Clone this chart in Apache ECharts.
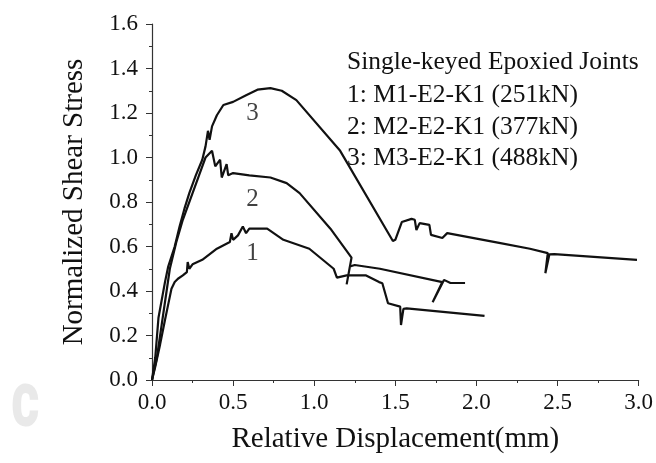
<!DOCTYPE html>
<html><head><meta charset="utf-8">
<script src="https://cdn.jsdelivr.net/npm/echarts@6/dist/echarts.min.js"></script>
<style>html,body{margin:0;padding:0;background:#fff}#c{width:656px;height:463px}</style>
</head><body><div id="c"></div>
<script>
// Curve 1: M1-E2-K1 (251kN)
var disp1 = [0,0.02,0.05,0.08,0.10,0.12,0.14,0.16,0.19,0.215,0.22,0.23,0.25,0.31,0.40,0.48,0.49,0.50,0.53,0.56,0.58,0.60,0.71,0.81,0.97,1.12,1.14,1.20,1.32,1.40,1.42,1.455,1.53,1.535,1.55,1.57,2.05];
var stress1 = [0,0.06,0.16,0.27,0.34,0.41,0.44,0.455,0.47,0.485,0.53,0.50,0.52,0.54,0.59,0.62,0.66,0.63,0.65,0.69,0.66,0.68,0.68,0.63,0.59,0.50,0.46,0.47,0.47,0.44,0.435,0.345,0.33,0.247,0.32,0.322,0.288];
// Curve 2: M2-E2-K1 (377kN)
var disp2 = [0,0.03,0.06,0.09,0.11,0.15,0.19,0.24,0.29,0.33,0.37,0.39,0.42,0.43,0.46,0.47,0.50,0.60,0.73,0.83,0.91,1.10,1.23,1.20,1.22,1.25,1.405,1.79,1.73,1.80,1.84,1.93];
var stress2 = [0,0.10,0.25,0.40,0.50,0.62,0.72,0.82,0.92,1.00,1.03,0.96,0.99,0.91,0.97,0.92,0.93,0.92,0.91,0.885,0.84,0.68,0.55,0.43,0.51,0.517,0.50,0.44,0.35,0.45,0.436,0.436];
// Curve 3: M3-E2-K1 (488kN)
var disp3 = [0,0.02,0.04,0.08,0.10,0.14,0.17,0.20,0.23,0.27,0.31,0.33,0.345,0.355,0.37,0.40,0.44,0.50,0.58,0.65,0.73,0.80,0.89,1.16,1.485,1.50,1.54,1.60,1.62,1.63,1.65,1.71,1.72,1.79,1.82,2.14,2.33,2.44,2.425,2.45,2.48,2.99];
var stress3 = [0,0.10,0.28,0.44,0.51,0.60,0.69,0.77,0.84,0.92,0.99,1.05,1.12,1.08,1.14,1.19,1.236,1.25,1.28,1.305,1.312,1.30,1.258,1.03,0.625,0.63,0.71,0.724,0.72,0.674,0.705,0.697,0.652,0.638,0.66,0.616,0.59,0.57,0.48,0.565,0.566,0.54];
// Curve number labels
var curveLabels = ['1','2','3'];
var labelDisp = [0.62,0.62,0.62];
var labelStress = [0.57,0.81,1.20];
// Legend text lines
var legendLines = ['Single-keyed Epoxied Joints','1: M1-E2-K1 (251kN)','2: M2-E2-K1 (377kN)','3: M3-E2-K1 (488kN)'];

function pairs(a,b){return a.map(function(v,i){return [v,b[i]];});}
var serif = "'Liberation Serif','DejaVu Serif',serif";
var lineStyle = {color:'#111',width:2.2};
var legendY = [62,95,127,158];
var chart = echarts.init(document.getElementById('c'));
var graphics = legendLines.map(function(t,i){
  return {type:'text',x:347,y:legendY[i],style:{text:t,font:'25.5px '+serif,fill:'#111',verticalAlign:'middle'}};
});
graphics.push({type:'text',x:12,y:411,scaleX:0.72,style:{text:'C',font:'900 56px "Roboto","DejaVu Sans",sans-serif',fill:'#e9e9e9',verticalAlign:'middle',stroke:'#e9e9e9',lineWidth:2}});
chart.setOption({
  animation:false,
  backgroundColor:'#fff',
  grid:{left:152,right:17,top:24,bottom:83},
  xAxis:{type:'value',min:0,max:3,interval:0.5,
    name:'Relative Displacement(mm)',nameLocation:'middle',nameGap:45,
    nameTextStyle:{fontFamily:serif,fontSize:29,color:'#111'},
    axisLine:{lineStyle:{color:'#333',width:1.2}},
    axisTick:{inside:false,length:6,lineStyle:{color:'#333'}},
    minorTick:{show:true,splitNumber:2,length:3,lineStyle:{color:'#333'}},
    splitLine:{show:false},
    axisLabel:{margin:11,fontFamily:serif,fontSize:23,color:'#111',formatter:function(v){return v.toFixed(1);}}
  },
  yAxis:{type:'value',min:0,max:1.6,interval:0.2,
    name:'Normalized Shear Stress',nameLocation:'middle',nameGap:63,
    nameTextStyle:{fontFamily:serif,fontSize:29,color:'#111'},
    axisLine:{show:true,lineStyle:{color:'#333',width:1.2}},
    axisTick:{show:true,inside:false,length:6,lineStyle:{color:'#333'}},
    minorTick:{show:true,splitNumber:2,length:3,lineStyle:{color:'#333'}},
    splitLine:{show:false},
    axisLabel:{margin:14,fontFamily:serif,fontSize:23,color:'#111',formatter:function(v){return v.toFixed(1);}}
  },
  graphic:graphics,
  series:[
    {type:'line',data:pairs(disp1,stress1),showSymbol:false,lineStyle:lineStyle,z:3},
    {type:'line',data:pairs(disp2,stress2),showSymbol:false,lineStyle:lineStyle,z:3},
    {type:'line',data:pairs(disp3,stress3),showSymbol:false,lineStyle:lineStyle,z:3},
    {type:'scatter',symbolSize:0,data:curveLabels.map(function(t,i){return {value:[labelDisp[i],labelStress[i]],name:t};}),
      label:{show:true,position:'inside',formatter:'{b}',fontFamily:serif,fontSize:25,color:'#111'}}
  ]
});
</script></body></html>
